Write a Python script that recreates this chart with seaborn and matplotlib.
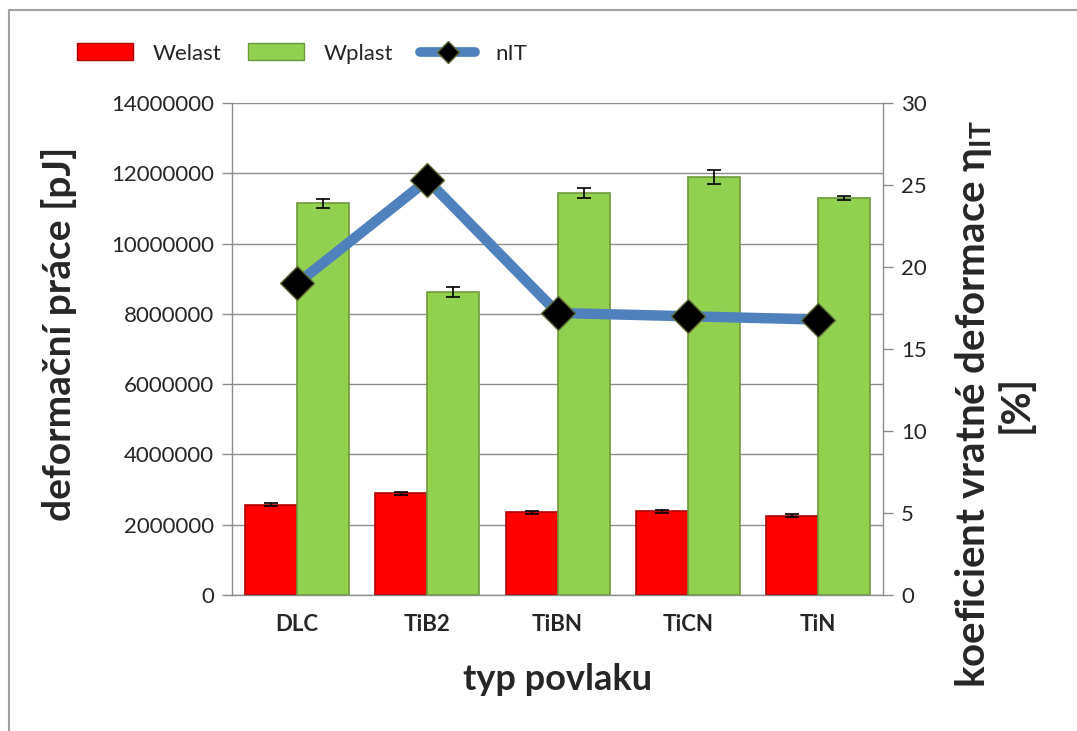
import numpy as np
import pandas as pd
import matplotlib
matplotlib.use("Agg")
import matplotlib.pyplot as plt
import seaborn as sns
from matplotlib.patches import Patch, Rectangle
from matplotlib.lines import Line2D

# Coating types and measured values
categories = ["DLC", "TiB2", "TiBN", "TiCN", "TiN"]
welast = [2.57e6, 2.90e6, 2.35e6, 2.38e6, 2.26e6]
welast_err = [0.04e6, 0.04e6, 0.04e6, 0.05e6, 0.04e6]
wplast = [11.15e6, 8.63e6, 11.45e6, 11.89e6, 11.30e6]
wplast_err = [0.13e6, 0.14e6, 0.14e6, 0.20e6, 0.06e6]
nit = [19.0, 25.3, 17.2, 17.0, 16.8]

left_ticks = [0, 2000000, 4000000, 6000000, 8000000, 10000000, 12000000, 14000000]
right_ticks = [0, 5, 10, 15, 20, 25, 30]

RED = "#FF0000"
GREEN = "#92D050"
BLUE = "#4F81BD"
GRID = "#8C8C8C"

sns.set_theme(style="white")
plt.rcParams["font.family"] = ["Lato", "DejaVu Sans"]

df = pd.DataFrame({
    "typ": categories * 2,
    "serie": ["Welast"] * len(categories) + ["Wplast"] * len(categories),
    "hodnota": welast + wplast,
})

fig = plt.figure(figsize=(10.77, 7.31), dpi=100)
ax = fig.add_axes([0.2155, 0.186, 0.8200 - 0.2155, 0.859 - 0.186])

sns.barplot(data=df, x="typ", y="hodnota", hue="serie",
            palette={"Welast": RED, "Wplast": GREEN}, saturation=1,
            errorbar=None, width=0.8, ax=ax, legend=False, zorder=3)

bars = ax.patches[:2 * len(categories)]
for bar in bars:
    is_red = bar.get_facecolor()[1] < 0.2
    bar.set_edgecolor("#B00000" if is_red else "#6E9A3A")
    bar.set_linewidth(1.2)

# error bars placed on the drawn bars
for bar, val, err in zip(bars, welast + wplast, welast_err + wplast_err):
    cx = bar.get_x() + bar.get_width() / 2
    ax.errorbar(cx, val, yerr=err, fmt="none", ecolor="black",
                elinewidth=1.2, capsize=5, capthick=1.2, zorder=5)

ax.set_ylim(0, 14000000)
ax.set_yticks(left_ticks)
ax.set_yticklabels([str(t) for t in left_ticks], fontsize=16)
ax.set_xlim(-0.5, len(categories) - 0.5)
ax.set_xticks(range(len(categories)))
ax.set_xticklabels(categories, fontsize=16, fontweight="bold")
ax.tick_params(axis="x", length=0, pad=14)
ax.tick_params(axis="y", direction="out", length=7, width=1, color=GRID,
               left=True, pad=6)
ax.yaxis.grid(True, color=GRID, linewidth=1.0, zorder=0)
ax.set_axisbelow(True)
for side in ["top", "right"]:
    ax.spines[side].set_visible(False)
for side in ["left", "bottom"]:
    ax.spines[side].set_color(GRID)
    ax.spines[side].set_linewidth(1.0)

ax.set_xlabel("typ povlaku", fontsize=26, fontweight="bold", labelpad=20)
ax.set_ylabel("")

# secondary axis: coefficient of elastic recovery
ax2 = ax.twinx()
xpos = np.arange(len(categories))
ax2.plot(xpos, nit, color=BLUE, linewidth=7.5, zorder=4,
         marker="D", markersize=17, markerfacecolor="black",
         markeredgecolor="#5C6B32", markeredgewidth=1.0)
ax2.set_ylim(0, 30)
ax2.set_yticks(right_ticks)
ax2.set_yticklabels([str(t) for t in right_ticks], fontsize=16)
ax2.tick_params(axis="y", direction="out", length=7, width=1, color=GRID,
                right=True, pad=6)
for side in ["top", "left", "bottom"]:
    ax2.spines[side].set_visible(False)
ax2.spines["right"].set_color(GRID)
ax2.spines["right"].set_linewidth(1.0)
ax2.grid(False)
ax2.set_ylabel("")

# axis titles
fig.text(59 / 1077, 1 - 334 / 731, "deformační práce [pJ]", rotation=90,
         ha="center", va="center", fontsize=28, fontweight="bold")
fig.text(994 / 1077, 1 - 404 / 731,
         "koeficient vratné deformace η$\\mathregular{_{IT}}$\n[%]",
         rotation=90, ha="center", va="center", multialignment="center",
         fontsize=29, fontweight="bold", linespacing=1.1)

# legend across the top
handles = [
    Patch(facecolor=RED, edgecolor="#B00000"),
    Patch(facecolor=GREEN, edgecolor="#6E9A3A"),
    Line2D([0], [0], color=BLUE, linewidth=7, marker="D", markersize=11,
           markerfacecolor="black", markeredgecolor="#5C6B32"),
]
fig.legend(handles, ["Welast", "Wplast", "nIT"], loc="upper left",
           bbox_to_anchor=(0.053, 0.968), ncol=3, frameon=False,
           fontsize=16, handlelength=2.5, handleheight=0.8,
           handletextpad=0.9, columnspacing=1.2)

# outer chart border
fig.patches.append(Rectangle((9 / 1077, -0.2), 1.5, 1.2 - 10 / 731,
                             transform=fig.transFigure, fill=False,
                             edgecolor="#A0A0A0", linewidth=1.5, zorder=0))

fig.savefig("out.png", dpi=100)
